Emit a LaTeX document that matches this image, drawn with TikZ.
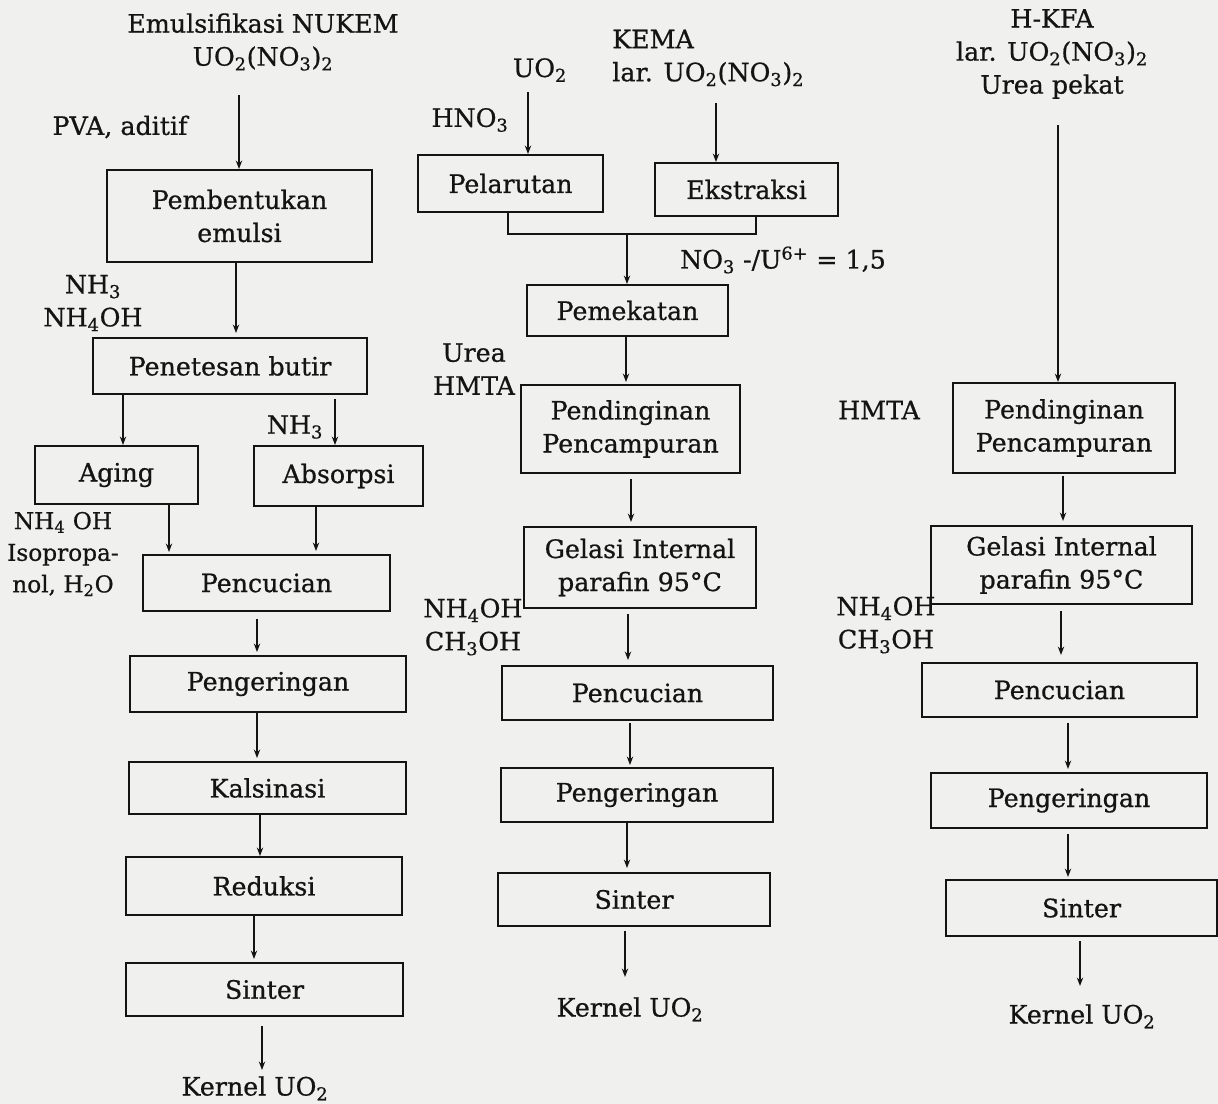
\documentclass[tikz,border=0pt]{standalone}
\usepackage{fontspec}
\setmainfont{DejaVu Serif}[FakeBold=0.7]
\usetikzlibrary{arrows.meta,calc}
\newcommand\sbs[1]{\textsubscript{#1}}
\definecolor{paper}{RGB}{240,240,238}
\definecolor{ink}{RGB}{20,20,20}
% #1 x (px), #2 from node, #3 to node, #4 start gap (px), #5 end gap (px)
\newcommand\varr[5]{\draw[arr] let \p1=(#2.south), \p2=(#3.north), \p3=(#1,0) in (\x3,{\y1-#4*0.7113pt}) -- (\x3,{\y2+#5*0.7113pt});}
\begin{document}
\begin{tikzpicture}[x=0.025cm,y=-0.025cm,
  every node/.style={font=\fontsize{18}{23.5}\selectfont, inner sep=0pt, text=ink},
  box/.style={draw=ink, line width=1.4pt, align=center},
  bx/.style 2 args={minimum width=#1*0.025cm, minimum height=#2*0.025cm},
  lbl/.style={align=center},
  ln/.style={draw=ink, line width=1.1pt},
  arr/.style={draw=ink, line width=1.1pt, -{Stealth[length=6pt,width=4.5pt]}}]
\fill[paper] (0,0) rectangle (1218,1104);
\useasboundingbox (0,0) rectangle (1218,1104);

% ---------- Column 1 ----------
\node[lbl] (t1) at (263,42) {Emulsifikasi NUKEM\\UO\sbs{2}(NO\sbs{3})\sbs{2}};
\node[lbl] (pva) at (120,127) {PVA, aditif};
\node[box,bx={265}{92}] (pb) at (239.5,216) {Pembentukan\\emulsi};
\node[lbl] (nha) at (93,303) {NH\sbs{3}\\NH\sbs{4}OH};
\node[box,bx={274}{56}] (pt) at (230,366) {Penetesan butir};
\node[box,bx={163}{58}] (ag) at (116.5,475) {Aging};
\node[box,bx={169}{60}] (ab) at (338.5,476) {Absorpsi};
\node[lbl] (nhb) at (295,427) {NH\sbs{3}};
\node[lbl,font=\fontsize{16.5}{22.5}\selectfont] (iso) at (63,554) {NH\sbs{4} OH\\Isopropa-\\nol, H\sbs{2}O};
\node[box,bx={247}{56}] (pc1) at (266.5,583) {Pencucian};
\node[box,bx={276}{56}] (pg1) at (268,684) {Pengeringan};
\node[box,bx={277}{52}] (ks) at (267.5,788) {Kalsinasi};
\node[box,bx={276}{58}] (rd) at (264,886) {Reduksi};
\node[box,bx={277}{53}] (sn1) at (264.5,989.5) {Sinter};
\node[lbl,anchor=north] (k1) at (255,1076) {Kernel UO\sbs{2}};

\coordinate (s1) at (239,95);
\draw[arr] (s1) -- (s1 |- pb.north);
\varr{236}{pb}{pt}{0}{4}
\varr{123}{pt}{ag}{0}{0}
\varr{335}{pt}{ab}{4}{0}
\varr{169}{ag}{pc1}{0}{2}
\varr{316}{ab}{pc1}{0}{3}
\varr{257}{pc1}{pg1}{7}{3}
\varr{257}{pg1}{ks}{0}{3}
\varr{260}{ks}{rd}{0}{0}
\varr{254}{rd}{sn1}{0}{3}
\varr{262}{sn1}{k1}{9}{6}

% ---------- Column 2 ----------
\node[lbl] (uo) at (540,70) {UO\sbs{2}};
\node[align=left,anchor=west] (kema) at (612,58) {KEMA\\lar. UO\sbs{2}(NO\sbs{3})\sbs{2}};
\node[lbl] (hno) at (470,120) {HNO\sbs{3}};
\node[box,bx={185}{57}] (pl) at (510.5,183.5) {Pelarutan};
\node[box,bx={183}{53}] (ek) at (746.5,189.5) {Ekstraksi};
\node[lbl] (ratio) at (783,260) {NO\sbs{3} -/U\textsuperscript{6+} = 1,5};
\node[box,bx={201}{51}] (pm) at (627.5,310.5) {Pemekatan};
\node[lbl] (urea) at (474,369) {Urea\\HMTA};
\node[box,bx={219}{88}] (pp2) at (630.5,429) {Pendinginan\\Pencampuran};
\node[box,bx={232}{81}] (gi2) at (640,567.5) {Gelasi Internal\\parafin 95°C};
\node[lbl] (nhc) at (473,627) {NH\sbs{4}OH\\CH\sbs{3}OH};
\node[box,bx={271}{54}] (pc2) at (637.5,693) {Pencucian};
\node[box,bx={272}{54}] (pg2) at (637,795) {Pengeringan};
\node[box,bx={272}{53}] (sn2) at (634,899.5) {Sinter};
\node[lbl,anchor=north] (k2) at (630,997) {Kernel UO\sbs{2}};

\coordinate (s2) at (528,92);
\coordinate (s3) at (716,103);
\draw[arr] (s2) -- (s2 |- pl.north);
\draw[arr] (s3) -- (s3 |- ek.north);
\coordinate (jn) at (627,234);
\draw[ln] let \p1=(pl.south), \p2=(ek.south), \p3=(508,0), \p4=(756,0), \p5=(jn) in
  (\x3,\y1) -- (\x3,\y5) -- (\x4,\y5) -- (\x4,\y2);
\draw[arr] (jn) -- (jn |- pm.north);
\varr{626}{pm}{pp2}{0}{2}
\varr{631}{pp2}{gi2}{5}{4}
\varr{628}{gi2}{pc2}{5}{5}
\varr{630}{pc2}{pg2}{2}{2}
\varr{627}{pg2}{sn2}{0}{4}
\varr{625}{sn2}{k2}{4}{20}

% ---------- Column 3 ----------
\node[lbl] (t3) at (1052,54) {H-KFA\\lar. UO\sbs{2}(NO\sbs{3})\sbs{2}\\Urea pekat};
\node[lbl] (hmta) at (879,410) {HMTA};
\node[box,bx={222}{90}] (pp3) at (1064,428) {Pendinginan\\Pencampuran};
\node[box,bx={261}{78}] (gi3) at (1061.5,565) {Gelasi Internal\\parafin 95°C};
\node[lbl] (nhd) at (886,625) {NH\sbs{4}OH\\CH\sbs{3}OH};
\node[box,bx={275}{54}] (pc3) at (1059.5,690) {Pencucian};
\node[box,bx={276}{55}] (pg3) at (1069,800.5) {Pengeringan};
\node[box,bx={271}{56}] (sn3) at (1081.5,908) {Sinter};
\node[lbl,anchor=north] (k3) at (1082,1004) {Kernel UO\sbs{2}};

\coordinate (s4) at (1058,125);
\draw[arr] (s4) -- (s4 |- pp3.north);
\varr{1063}{pp3}{gi3}{2}{4}
\varr{1061}{gi3}{pc3}{6}{7}
\varr{1068}{pc3}{pg3}{5}{3}
\varr{1068}{pg3}{sn3}{5}{2}
\varr{1080}{sn3}{k3}{4}{18}
\end{tikzpicture}
\end{document}
